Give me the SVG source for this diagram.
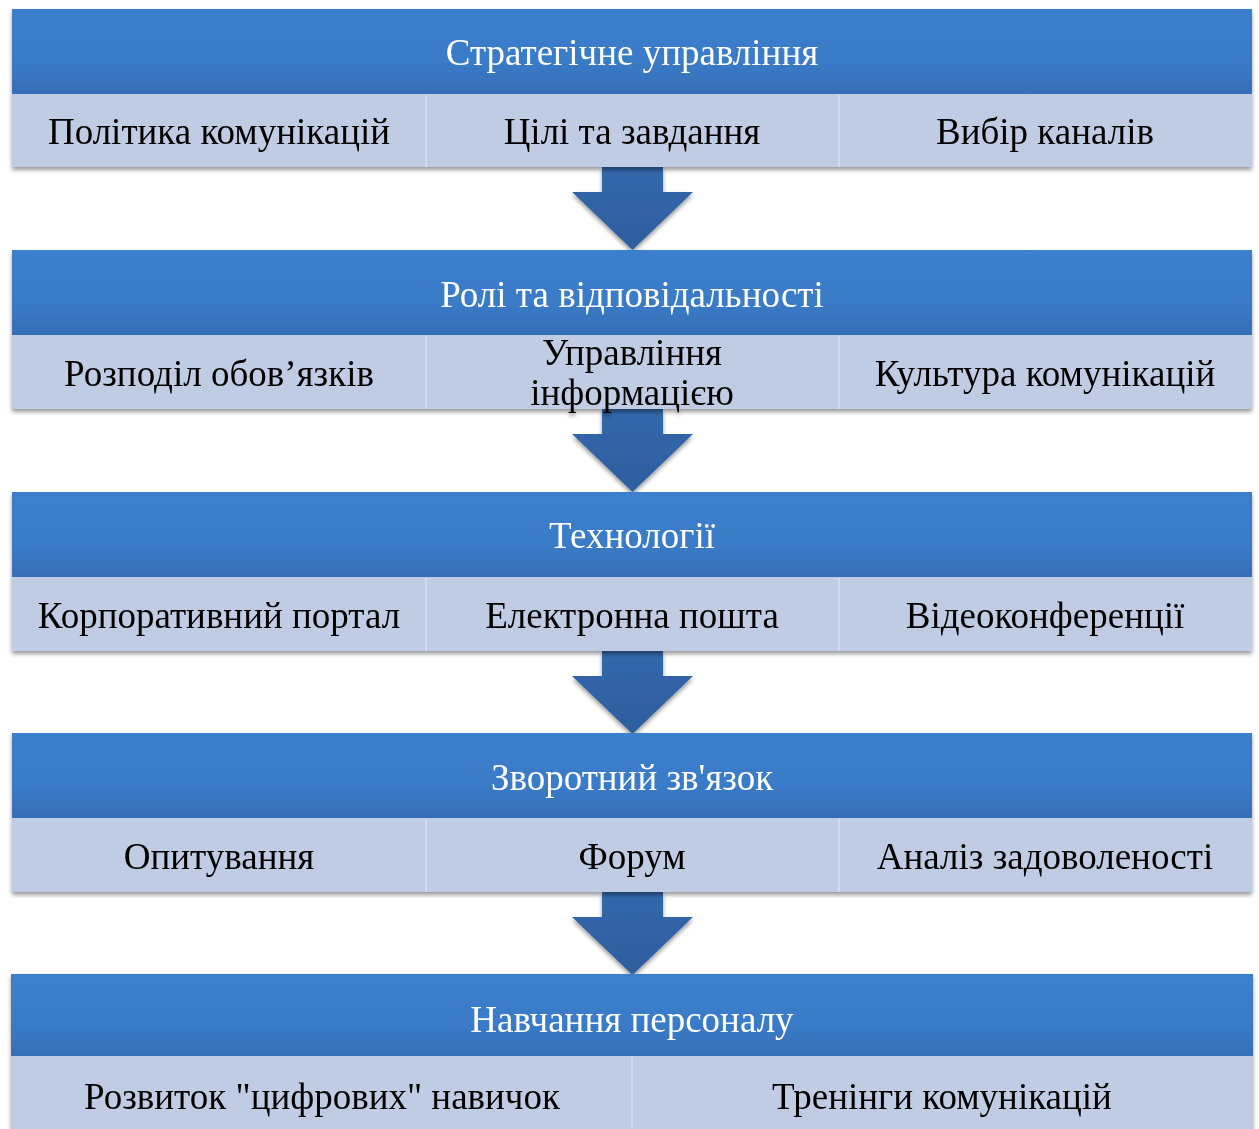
<svg xmlns="http://www.w3.org/2000/svg" width="1259" height="1129" viewBox="0 0 1259 1129">
<defs>
<linearGradient id="hg" x1="0" y1="0" x2="0" y2="1">
<stop offset="0" stop-color="#3B7FCD"/>
<stop offset="0.6" stop-color="#3A7BC8"/>
<stop offset="1" stop-color="#366FB6"/>
</linearGradient>
<linearGradient id="ag" x1="0" y1="0" x2="0" y2="1">
<stop offset="0" stop-color="#3468AC"/>
<stop offset="1" stop-color="#2D5E9E"/>
</linearGradient>
<filter id="sh" x="-5%" y="-10%" width="110%" height="130%">
<feGaussianBlur in="SourceAlpha" stdDeviation="2"/>
<feOffset dx="0" dy="3" result="b"/>
<feComponentTransfer><feFuncA type="linear" slope="0.4"/></feComponentTransfer>
<feMerge><feMergeNode/><feMergeNode in="SourceGraphic"/></feMerge>
</filter>
<g id="arrow">
<path d="M602,0 H663 V25 H693 L632.5,83 L572,25 H602 Z" fill="url(#ag)"/>
</g>
</defs>
<style>
.hdr{fill:url(#hg);}
.sub{fill:#C0CCE3;}
.div{stroke:#D3DCEC;stroke-width:2;}
.ht{font-family:"Liberation Serif","Times New Roman",serif;font-size:37px;fill:#FFFFFF;text-anchor:middle;}
.st{font-family:"Liberation Serif","Times New Roman",serif;font-size:37px;fill:#000000;text-anchor:middle;}
</style>
<g id="connectors" filter="url(#sh)">
<use href="#arrow" transform="translate(0,167)"/>
<use href="#arrow" transform="translate(0,409)"/>
<use href="#arrow" transform="translate(0,651)"/>
<use href="#arrow" transform="translate(0,892)"/>
</g>
<g id="block1" filter="url(#sh)">
<rect class="hdr" x="12" y="9" width="1240" height="85"/>
<rect class="sub" x="12" y="94" width="1240" height="73"/>
<line class="div" x1="426" y1="95" x2="426" y2="167"/>
<line class="div" x1="839" y1="95" x2="839" y2="167"/>
<text class="ht" x="632" y="65">Стратегічне управління</text>
<text class="st" x="219" y="144">Політика комунікацій</text>
<text class="st" x="632" y="144">Цілі та завдання</text>
<text class="st" x="1045" y="144">Вибір каналів</text>
</g>
<g id="block2" filter="url(#sh)">
<rect class="hdr" x="12" y="250" width="1240" height="85"/>
<rect class="sub" x="12" y="335" width="1240" height="74"/>
<line class="div" x1="426" y1="336" x2="426" y2="409"/>
<line class="div" x1="839" y1="336" x2="839" y2="409"/>
<text class="ht" x="632" y="307">Ролі та відповідальності</text>
<text class="st" x="219" y="386">Розподіл обов’язків</text>
<text class="st" x="632" y="365">Управління</text>
<text class="st" x="632" y="405">інформацією</text>
<text class="st" x="1045" y="386">Культура комунікацій</text>
</g>
<g id="block3" filter="url(#sh)">
<rect class="hdr" x="12" y="492" width="1240" height="85"/>
<rect class="sub" x="12" y="577" width="1240" height="74"/>
<line class="div" x1="426" y1="578" x2="426" y2="651"/>
<line class="div" x1="839" y1="578" x2="839" y2="651"/>
<text class="ht" x="632" y="548">Технології</text>
<text class="st" x="219" y="628">Корпоративний портал</text>
<text class="st" x="632" y="628">Електронна пошта</text>
<text class="st" x="1045" y="628">Відеоконференції</text>
</g>
<g id="block4" filter="url(#sh)">
<rect class="hdr" x="12" y="733" width="1240" height="85"/>
<rect class="sub" x="12" y="818" width="1240" height="74"/>
<line class="div" x1="426" y1="819" x2="426" y2="892"/>
<line class="div" x1="839" y1="819" x2="839" y2="892"/>
<text class="ht" x="632" y="790">Зворотний зв'язок</text>
<text class="st" x="219" y="869">Опитування</text>
<text class="st" x="632" y="869">Форум</text>
<text class="st" x="1045" y="869">Аналіз задоволеності</text>
</g>
<g id="block5" filter="url(#sh)">
<rect class="hdr" x="11" y="974" width="1242" height="82"/>
<rect class="sub" x="11" y="1056" width="1242" height="80"/>
<line class="div" x1="632" y1="1057" x2="632" y2="1129"/>
<text class="ht" x="632" y="1032">Навчання персоналу</text>
<text class="st" x="322" y="1109">Розвиток "цифрових" навичок</text>
<text class="st" x="942" y="1109">Тренінги комунікацій</text>
</g>
</svg>
